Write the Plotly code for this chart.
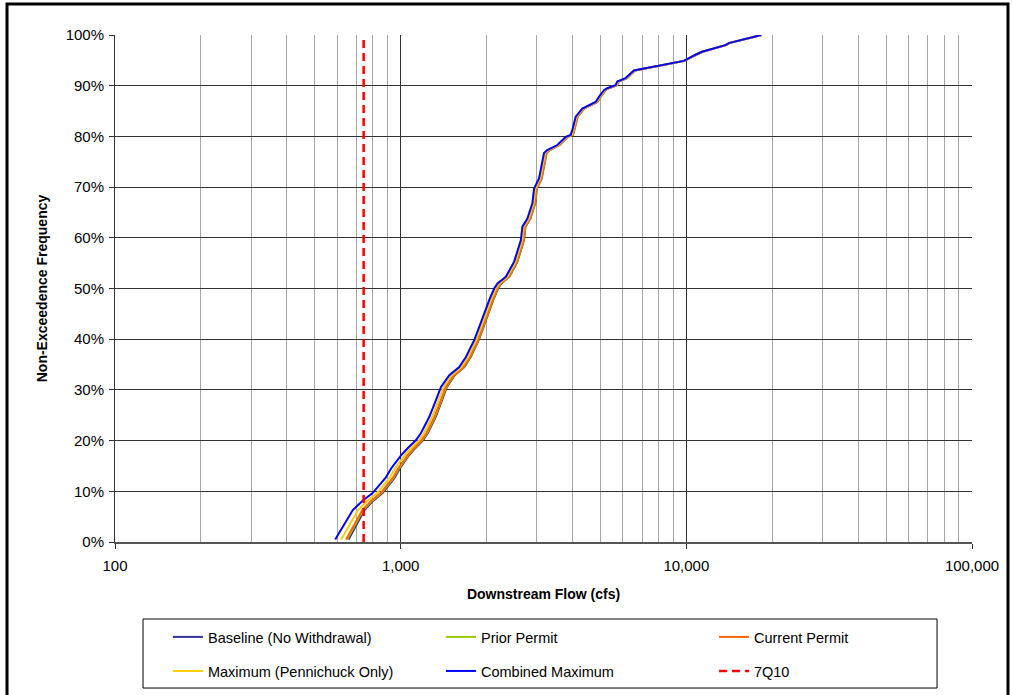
import plotly.graph_objects as go

# Non-exceedence frequency (%) shared by all flow series
freq = [0.5, 6.3, 8.2, 9.6, 11.6, 12.8, 14.5, 17.1, 18.5, 20.1, 21.5, 24.7, 28.0, 30.6,
        32.9, 34.5, 36.5, 39.8, 42.4, 45.1, 47.7, 50.0, 51.0, 52.3, 53.6, 55.3, 59.5, 62.2,
        63.8, 66.8, 69.7, 71.7, 73.4, 76.7, 77.3, 78.3, 79.9, 80.3, 81.3, 83.9, 85.5, 86.8,
        87.8, 89.1, 89.5, 90.1, 90.8, 91.5, 93.0, 93.9, 94.9, 96.1, 96.7, 98.0, 98.4, 100.0]

baseline = [657, 747, 804, 863, 921, 956, 993, 1070, 1125, 1199, 1245, 1327, 1396, 1451,
            1547, 1670, 1759, 1876, 1950, 2028, 2108, 2192, 2250, 2401, 2465, 2563, 2701, 2735,
            2844, 2958, 2998, 3117, 3159, 3242, 3327, 3602, 3849, 4005, 4057, 4167, 4389, 4881,
            5010, 5213, 5351, 5721, 5795, 6195, 6618, 8076, 9858, 10827, 11412, 13762, 14133, 18367]

prior_permit = [649, 739, 796, 855, 913, 948, 985, 1062, 1117, 1191, 1237, 1319, 1388, 1443,
                1539, 1662, 1751, 1868, 1942, 2020, 2100, 2184, 2242, 2393, 2457, 2555, 2693, 2727,
                2836, 2950, 2990, 3109, 3151, 3234, 3319, 3594, 3841, 3997, 4049, 4159, 4381, 4873,
                5002, 5205, 5343, 5713, 5787, 6187, 6610, 8068, 9850, 10819, 11404, 13754, 14125, 18359]

current_permit = [644, 734, 791, 850, 908, 943, 980, 1057, 1112, 1186, 1232, 1314, 1383, 1438,
                  1534, 1657, 1746, 1863, 1937, 2015, 2095, 2179, 2237, 2388, 2452, 2550, 2688, 2722,
                  2831, 2945, 2985, 3104, 3146, 3229, 3314, 3589, 3836, 3992, 4044, 4154, 4376, 4868,
                  4997, 5200, 5338, 5708, 5782, 6182, 6605, 8063, 9845, 10814, 11399, 13749, 14120, 18354]

maximum_pennichuck = [619, 709, 766, 825, 883, 918, 955, 1032, 1087, 1161, 1207, 1289, 1358, 1413,
                      1509, 1632, 1721, 1838, 1912, 1990, 2070, 2154, 2212, 2363, 2427, 2525, 2663, 2697,
                      2806, 2920, 2960, 3079, 3121, 3204, 3289, 3564, 3811, 3967, 4019, 4129, 4351, 4843,
                      4972, 5175, 5313, 5683, 5757, 6157, 6580, 8038, 9820, 10789, 11374, 13724, 14095, 18329]

combined_maximum = [590, 680, 737, 796, 854, 889, 926, 1003, 1058, 1132, 1178, 1260, 1329, 1384,
                    1480, 1603, 1692, 1809, 1883, 1961, 2041, 2125, 2183, 2334, 2398, 2496, 2634, 2668,
                    2777, 2891, 2931, 3050, 3092, 3175, 3260, 3535, 3782, 3938, 3990, 4100, 4322, 4814,
                    4943, 5146, 5284, 5654, 5728, 6128, 6551, 8009, 9791, 10760, 11345, 13695, 14066, 18300]

q7q10 = 742
q7q10_freq = [0, 100]

x_tick_vals = [100, 1000, 10000, 100000]
x_tick_text = ["100", "1,000", "10,000", "100,000"]
y_tick_vals = [0, 10, 20, 30, 40, 50, 60, 70, 80, 90, 100]
y_tick_text = ["0%", "10%", "20%", "30%", "40%", "50%", "60%", "70%", "80%", "90%", "100%"]

FONT = "Liberation Sans, Arial, sans-serif"

fig = go.Figure()

series = [
    ("Baseline (No Withdrawal)", baseline, "#333399", "legend"),
    ("Prior Permit", prior_permit, "#99CC00", "legend"),
    ("Current Permit", current_permit, "#FF6600", "legend"),
    ("Maximum (Pennichuck Only)", maximum_pennichuck, "#FFCC00", "legend2"),
    ("Combined Maximum", combined_maximum, "#0000FF", "legend2"),
]
for name, vals, color, lg in series:
    fig.add_trace(go.Scatter(x=vals, y=freq, mode="lines", name=name,
                             line=dict(color=color, width=2), legend=lg))

fig.add_trace(go.Scatter(x=[q7q10, q7q10], y=q7q10_freq, mode="lines", name="7Q10",
                         line=dict(color="#FF0000", width=2.5, dash="8px,5px"), legend="legend2"))

legend_common = dict(orientation="h", xanchor="left", yanchor="middle", yref="container",
                     font=dict(family=FONT, size=14.5, color="#000000"),
                     bgcolor="rgba(0,0,0,0)", borderwidth=0, entrywidth=228,
                     entrywidthmode="pixels", traceorder="normal")

fig.update_layout(
    width=1012, height=695,
    margin=dict(l=115, r=40, t=35, b=153),
    paper_bgcolor="white", plot_bgcolor="white",
    font=dict(family=FONT, size=14, color="#000000"),
    showlegend=True,
    legend=dict(x=0.0618, y=0.0835, **legend_common),
    legend2=dict(x=0.0618, y=0.0345, **legend_common),
    xaxis=dict(type="log", range=[2, 5], tickvals=x_tick_vals, ticktext=x_tick_text,
               showgrid=True, gridcolor="#333333", gridwidth=1, automargin=False,
               minor=dict(dtick="D1", showgrid=True, gridcolor="#A6A6A6", gridwidth=1,
                          ticks=""),
               ticks="outside", ticklen=5, tickcolor="#333333", ticklabelstandoff=4,
               showline=True, linecolor="#555555", linewidth=2, zeroline=False,
               tickfont=dict(family=FONT, size=15),
               title=dict(text="<b>Downstream Flow (cfs)</b>", standoff=16,
                          font=dict(family=FONT, size=14))),
    yaxis=dict(range=[0, 100], tickvals=y_tick_vals, ticktext=y_tick_text,
               showgrid=True, gridcolor="#333333", gridwidth=1, automargin=False,
               ticks="outside", ticklen=5, tickcolor="#333333", ticklabelstandoff=2,
               showline=True, linecolor="#333333", linewidth=1, zeroline=False,
               tickfont=dict(family=FONT, size=15),
               title=dict(text="<b>Non-Exceedence Frequency</b>", standoff=14,
                          font=dict(family=FONT, size=14))),
    shapes=[
        # outer figure frame
        dict(type="rect", xref="paper", yref="paper", x0=-0.126, x1=1.042, y0=-0.32, y1=1.061,
             line=dict(color="#000000", width=3), fillcolor="rgba(0,0,0,0)", layer="above"),
        # legend box
        dict(type="rect", xref="paper", yref="paper", x0=0.0327, x1=0.9592, y0=-0.288, y1=-0.1519,
             line=dict(color="#000000", width=1), fillcolor="rgba(0,0,0,0)", layer="above"),
    ],
)

fig.write_html("out.html")
